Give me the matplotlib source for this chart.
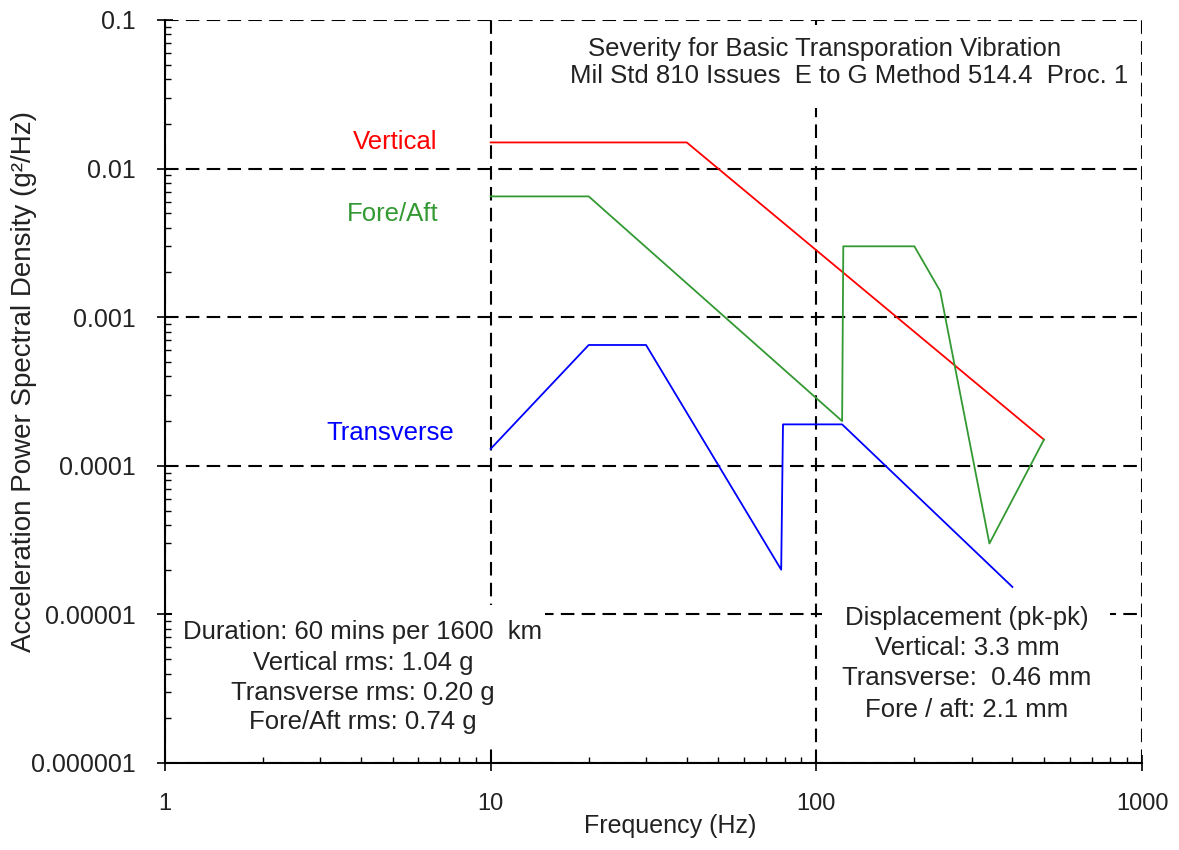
import matplotlib
matplotlib.use("Agg")
import matplotlib.pyplot as plt
from matplotlib.patches import Rectangle
from matplotlib.ticker import FixedLocator, FixedFormatter, LogLocator, NullFormatter

plt.rcParams['font.family'] = ['Liberation Sans', 'DejaVu Sans']

# Breakpoints of the three PSD profiles (Hz, g^2/Hz)
freq_vertical = [10, 40, 500]
psd_vertical = [0.015, 0.015, 0.00015]

freq_transverse = [10, 20, 30, 78, 79, 120, 400]
psd_transverse = [0.00013, 0.00065, 0.00065, 0.00002, 0.00019, 0.00019, 0.0000153]

freq_foreaft = [10, 20, 120, 121, 200, 240, 340, 500]
psd_foreaft = [0.0065, 0.0065, 0.0002, 0.003, 0.003, 0.0015, 0.00003, 0.00015]

x_ticks = [1, 10, 100, 1000]
x_tick_labels = ["1", "10", "100", "1000"]
y_ticks = [1e-6, 1e-5, 1e-4, 1e-3, 1e-2, 1e-1]
y_tick_labels = ["0.000001", "0.00001", "0.0001", "0.001", "0.01", "0.1"]

title_lines = ["Severity for Basic Transporation Vibration",
               "Mil Std 810 Issues  E to G Method 514.4  Proc. 1"]
summary_lines = ["Duration: 60 mins per 1600  km",
                 "Vertical rms: 1.04 g",
                 "Transverse rms: 0.20 g",
                 "Fore/Aft rms: 0.74 g"]
displacement_lines = ["Displacement (pk-pk)",
                      "Vertical: 3.3 mm",
                      "Transverse:  0.46 mm",
                      "Fore / aft: 2.1 mm"]

RED = "#ff0000"
GREEN = "#339933"
BLUE = "#0000ff"
TXT = "#222222"

fig = plt.figure(figsize=(11.79, 8.5), dpi=100)
ax = fig.add_axes([165 / 1179, 1 - 763 / 850, 977 / 1179, 743 / 850])

ax.set_xscale("log")
ax.set_yscale("log")
ax.set_xlim(1, 1000)
ax.set_ylim(1e-6, 0.1)

ax.set_axisbelow(True)
ax.grid(True, which="major", color="black", linestyle=(0, (6.5, 3.5)), linewidth=1.5)

ax.plot(freq_vertical, psd_vertical, color=RED, lw=1.3, zorder=3)
ax.plot(freq_foreaft, psd_foreaft, color=GREEN, lw=1.3, zorder=3)
ax.plot(freq_transverse, psd_transverse, color=BLUE, lw=1.3, zorder=3)

# Series names next to the curves
ax.text(5.08, 0.0151, "Vertical", color=RED, fontsize=18.5, ha="center", va="center", zorder=4)
ax.text(5.0, 0.00494, "Fore/Aft", color=GREEN, fontsize=18.5, ha="center", va="center", zorder=4)
ax.text(4.9, 0.000166, "Transverse", color=BLUE, fontsize=18.5, ha="center", va="center", zorder=4)

# White panels behind the text blocks
for (x0, y0, x1, y1) in [(0.007, 0.027, 0.389, 0.213),
                         (0.6725, 0.038, 0.967, 0.219),
                         (0.4197, 0.8816, 0.9826, 0.9933)]:
    ax.add_patch(Rectangle((x0, y0), x1 - x0, y1 - y0, transform=ax.transAxes,
                           facecolor="white", edgecolor="none", zorder=1))

for txt, xf, yf in zip(title_lines, [0.6755, 0.7001], [0.9516, 0.9152]):
    ax.text(xf, yf, txt, transform=ax.transAxes, fontsize=18.5, color=TXT,
            ha="center", va="baseline", zorder=4)

for txt, yf in zip(summary_lines, [0.1669, 0.1252, 0.0848, 0.0458]):
    ax.text(0.2027, yf, txt, transform=ax.transAxes, fontsize=18.5, color=TXT,
            ha="center", va="baseline", zorder=4)

for txt, yf in zip(displacement_lines, [0.1857, 0.1454, 0.1050, 0.0619]):
    ax.text(0.8209, yf, txt, transform=ax.transAxes, fontsize=18.5, color=TXT,
            ha="center", va="baseline", zorder=4)

# Axes, ticks and labels
ax.xaxis.set_major_locator(FixedLocator(x_ticks))
ax.xaxis.set_major_formatter(FixedFormatter(x_tick_labels))
ax.yaxis.set_major_locator(FixedLocator(y_ticks))
ax.yaxis.set_major_formatter(FixedFormatter(y_tick_labels))
ax.xaxis.set_minor_locator(LogLocator(base=10, subs=range(2, 10)))
ax.yaxis.set_minor_locator(LogLocator(base=10, subs=range(2, 10), numticks=20))
ax.xaxis.set_minor_formatter(NullFormatter())
ax.yaxis.set_minor_formatter(NullFormatter())

ax.tick_params(axis="both", which="major", direction="inout", length=11.5, width=1.2,
               color="black", labelcolor=TXT)
ax.tick_params(axis="both", which="minor", direction="in", length=4.5, width=1.0, color="black")
ax.tick_params(axis="x", which="major", labelsize=17, pad=16)
ax.tick_params(axis="y", which="major", labelsize=18, pad=15)

for side in ("top", "right"):
    ax.spines[side].set_visible(False)
for side in ("left", "bottom"):
    ax.spines[side].set_linewidth(1.5)
    ax.spines[side].set_color("black")

ax.set_xlabel("Frequency (Hz)", fontsize=18, color=TXT)
ax.set_ylabel("Acceleration Power Spectral Density (g²/Hz)", fontsize=20, color=TXT)
ax.xaxis.set_label_coords(0.517, -0.068)
ax.yaxis.set_label_coords(-0.131, 0.514)

fig.savefig("out.png", dpi=100)
